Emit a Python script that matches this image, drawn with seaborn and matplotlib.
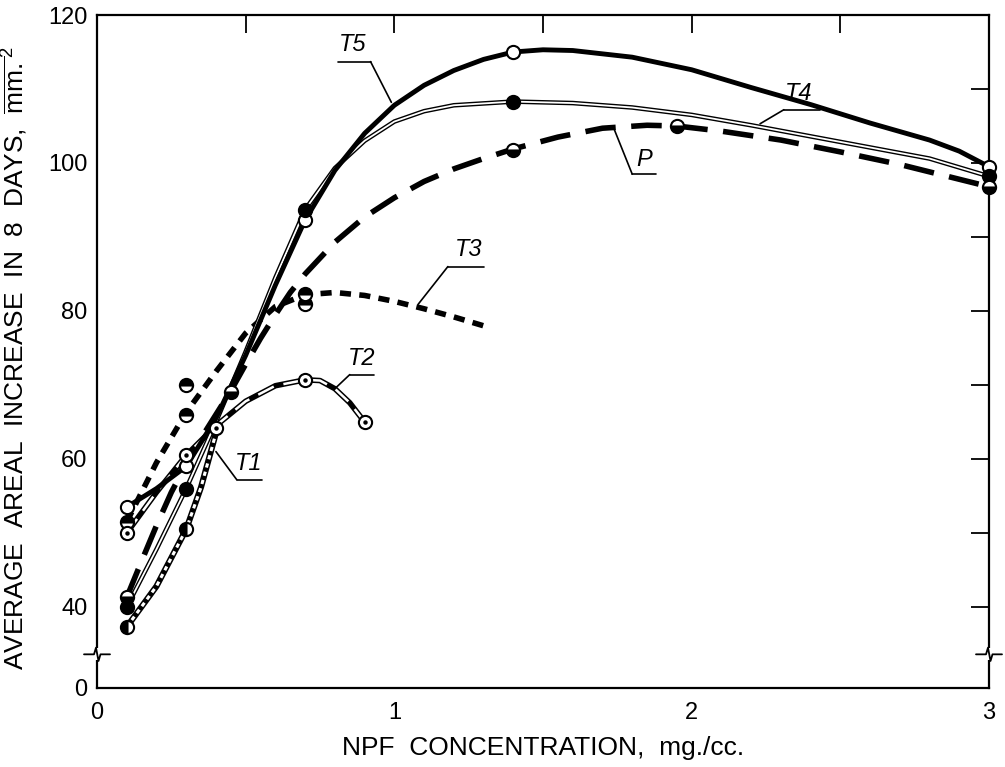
import numpy as np
import pandas as pd
import matplotlib
matplotlib.use("Agg")
import matplotlib.pyplot as plt
import seaborn as sns
from matplotlib.transforms import blended_transform_factory

# ---------------- data ----------------
# smooth curves
t5_x = [0.1, 0.2, 0.3, 0.4, 0.5, 0.6, 0.7, 0.8, 0.9, 1.0, 1.1, 1.2, 1.3, 1.4, 1.5, 1.6, 1.8, 2.0, 2.2, 2.4, 2.6, 2.8, 2.9, 3.0]
t5_y = [53.5, 56, 59, 65.5, 74, 83.5, 92.3, 99, 104, 107.8, 110.5, 112.5, 114, 115, 115.3, 115.2, 114.3, 112.6, 110.2, 107.9, 105.4, 103.1, 101.6, 99.5]

t4_x = [0.1, 0.2, 0.3, 0.4, 0.5, 0.6, 0.7, 0.8, 0.9, 1.0, 1.1, 1.2, 1.4, 1.6, 1.8, 2.0, 2.2, 2.4, 2.6, 2.8, 3.0]
t4_y = [40, 47.8, 56, 65, 74.5, 84.5, 93.7, 99.3, 103, 105.6, 107, 107.8, 108.3, 108.1, 107.5, 106.5, 105.1, 103.6, 102.1, 100.6, 98.2]

p_x = [0.1, 0.15, 0.2, 0.25, 0.3, 0.35, 0.4, 0.45, 0.5, 0.55, 0.6, 0.65, 0.7, 0.8, 0.9, 1.0, 1.1, 1.2, 1.3, 1.4,
       1.55, 1.7, 1.85, 1.95, 2.1, 2.3, 2.5, 2.7, 2.85, 3.0]
p_y = [41.3, 46.2, 51, 55.5, 59.3, 62.8, 66, 69.2, 72.8, 76.3, 79.5, 82.5, 85, 89.3, 92.7, 95.3, 97.5, 99.2, 100.6, 101.9,
       103.5, 104.7, 105.1, 105, 104.3, 103.1, 101.5, 99.8, 98.3, 96.8]

t3_x = [0.1, 0.2, 0.3, 0.4, 0.5, 0.6, 0.7, 0.8, 0.9, 1.0, 1.1, 1.2, 1.3]
t3_y = [51.5, 59.5, 66.3, 71.8, 77, 80.6, 82.2, 82.5, 82.1, 81.3, 80.3, 79.2, 78]

t2_x = [0.1, 0.2, 0.3, 0.4, 0.5, 0.6, 0.7, 0.75, 0.8, 0.85, 0.9]
t2_y = [50, 55.5, 60.5, 64.5, 67.8, 69.9, 70.7, 70.6, 69.5, 67.6, 65]

t1_x = [0.1, 0.2, 0.3, 0.35, 0.4]
t1_y = [37.3, 42.8, 50.5, 56.2, 63.5]

# measured points
t5_px = [0.1, 0.3, 0.7, 1.4, 3.0]
t5_py = [53.5, 59, 92.3, 115, 99.5]
t4_px = [0.1, 0.3, 0.7, 1.4, 3.0]
t4_py = [40, 56, 93.7, 108.2, 98.2]
p_px = [0.1, 0.45, 1.4, 1.95, 3.0]
p_py = [41.3, 69, 101.8, 105, 96.8]
t3_px = [0.1, 0.3, 0.3, 0.7, 0.7]
t3_py = [51.5, 66, 70, 82.3, 81]
t2_px = [0.1, 0.3, 0.4, 0.7, 0.9]
t2_py = [50, 60.5, 64.2, 70.7, 65]
t1_px = [0.1, 0.3]
t1_py = [37.3, 50.5]

x_ticks = [0, 0.5, 1, 1.5, 2, 2.5, 3]
x_ticklabels = ["0", "", "1", "", "2", "", "3"]
y_zero_pos = 29.05          # where the broken axis puts "0"
y_ticks = [y_zero_pos, 40, 50, 60, 70, 80, 90, 100, 110, 120]
y_ticklabels = ["0", "40", "", "60", "", "80", "", "100", "", "120"]

# ---------------- style ----------------
sns.set_theme(style="white")
FAM = ['Liberation Sans', 'DejaVu Sans']
plt.rcParams['font.family'] = FAM
plt.rcParams['mathtext.fontset'] = 'custom'
plt.rcParams['mathtext.rm'] = 'Liberation Sans'
plt.rcParams['mathtext.it'] = 'Liberation Sans:italic'

fig = plt.figure(figsize=(10.05, 7.67), dpi=100)
fig.patch.set_facecolor("white")
ax = fig.add_axes([97 / 1005, 1 - 688 / 767, (989 - 97) / 1005, (688 - 15) / 767])
ax.set_facecolor("white")


def curve(x, y, lw, dashes=None, color="black", z=3, capstyle="butt"):
    n0 = len(ax.lines)
    sns.lineplot(x=x, y=y, ax=ax, color=color, lw=lw, sort=False, estimator=None,
                 clip_on=False, zorder=z)
    ln = ax.lines[n0]
    ln.set_solid_capstyle("round")
    if dashes is not None:
        ln.set_dashes(dashes)
        ln.set_dash_capstyle(capstyle)
    return ln


# T5 : thick solid
curve(t5_x, t5_y, 3.5, z=3.2)
# T4 : double thin line
curve(t4_x, t4_y, 3.3, z=3.0)
curve(t4_x, t4_y, 1.3, color="white", z=3.05)
# P : long dashes
curve(p_x, p_y, 4.0, dashes=(5.5, 2.8), z=2.9)
# T3 : short dashes
curve(t3_x, t3_y, 4.0, dashes=(2.0, 1.5), z=2.9)
# T2 : white line with black segments
curve(t2_x, t2_y, 4.0, z=2.9)
curve(t2_x, t2_y, 1.8, color="white", dashes=(7, 4), z=2.95)
# T1 : checkered line
curve(t1_x, t1_y, 4.4, z=2.9)
curve(t1_x, t1_y, 2.2, color="white", dashes=(1.4, 1.4), z=2.95)


def marks(x, y, face, fill="full", alt="white", ms=9.5, z=6):
    sns.lineplot(x=x, y=y, ax=ax, linestyle="none", marker="o", markersize=ms,
                 markerfacecolor=face, markerfacecoloralt=alt, fillstyle=fill,
                 markeredgecolor="black", markeredgewidth=1.5, sort=False,
                 estimator=None, clip_on=False, zorder=z)


marks(t5_px, t5_py, "white")
marks(t4_px, t4_py, "black")
marks(p_px, p_py, "black", fill="bottom")
marks(t3_px, t3_py, "black", fill="top")
marks(t1_px, t1_py, "black", fill="left")
marks(t2_px, t2_py, "white")
sns.lineplot(x=t2_px, y=t2_py, ax=ax, linestyle="none", marker="o", markersize=3.2,
             markerfacecolor="black", markeredgecolor="black", markeredgewidth=0,
             sort=False, estimator=None, clip_on=False, zorder=7)

# ---------------- axes ----------------
ax.set_xlim(0, 3)
ax.set_ylim(y_zero_pos, 120)
ax.set_xticks(x_ticks)
ax.set_xticklabels(x_ticklabels)
ax.set_yticks(y_ticks)
ax.set_yticklabels(y_ticklabels)
ax.tick_params(direction="in", length=13, width=1.3, top=True, right=True,
               labelsize=17, pad=10, colors="black")
ax.tick_params(axis="y", pad=7)
ax.yaxis.get_major_ticks()[0].tick1line.set_visible(False)
ax.yaxis.get_major_ticks()[0].tick2line.set_visible(False)
for s in ax.spines.values():
    s.set_color("black")
    s.set_linewidth(1.6)
    s.set_zorder(2.5)
ax.grid(False)

ax.set_xlabel("NPF  CONCENTRATION,  mg./cc.", fontsize=19, labelpad=9, color="black")
ax.set_ylabel(r"AVERAGE  AREAL  INCREASE  IN  8  DAYS,  $\overline{\mathrm{mm.}}^{2}$",
              fontsize=19, labelpad=10, color="black")
ax.yaxis.set_label_coords(-0.075, 0.49)

# axis break marks
y_break = 33.6
for xa in (0.0, 1.0):
    tr = blended_transform_factory(ax.transAxes, ax.transData)
    ax.add_patch(plt.Rectangle((xa - 0.004, y_break - 0.8), 0.008, 1.6, transform=tr,
                               facecolor="white", edgecolor="none", clip_on=False, zorder=4))
    dx = 1 / 892
    zx = [xa - 13 * dx, xa - 3 * dx, xa - 1 * dx, xa + 1.5 * dx, xa + 3.5 * dx, xa + 13 * dx]
    zy = [y_break, y_break, y_break + 0.9, y_break - 0.9, y_break, y_break]
    ax.plot(zx, zy, color="black", lw=1.3, transform=tr, clip_on=False, zorder=4.5)

# ---------------- curve labels ----------------
lab_kw = dict(fontsize=17, style="italic", color="black", ha="center", va="center", zorder=8)
line_kw = dict(color="black", lw=1.2, clip_on=False, zorder=8)

ax.text(0.86, 116.0, "T5", **lab_kw)
ax.plot([0.81, 0.92], [113.7, 113.7], **line_kw)
ax.plot([0.92, 0.99], [113.7, 108.2], **line_kw)

ax.text(2.36, 109.4, "T4", **lab_kw)
ax.plot([2.31, 2.43], [107.2, 107.2], **line_kw)
ax.plot([2.31, 2.23], [107.2, 105.3], **line_kw)

ax.text(1.84, 100.5, "P", **lab_kw)
ax.plot([1.80, 1.88], [98.5, 98.5], **line_kw)
ax.plot([1.80, 1.74], [98.5, 104.5], **line_kw)

ax.text(1.25, 88.3, "T3", **lab_kw)
ax.plot([1.18, 1.30], [86.0, 86.0], **line_kw)
ax.plot([1.18, 1.08], [86.0, 80.9], **line_kw)

ax.text(0.89, 73.6, "T2", **lab_kw)
ax.plot([0.85, 0.93], [71.4, 71.4], **line_kw)
ax.plot([0.85, 0.80], [71.4, 69.5], **line_kw)

ax.text(0.51, 59.4, "T1", **lab_kw)
ax.plot([0.47, 0.555], [57.2, 57.2], **line_kw)
ax.plot([0.47, 0.40], [57.2, 61.0], **line_kw)

fig.savefig("out.png", dpi=100, facecolor="white")
